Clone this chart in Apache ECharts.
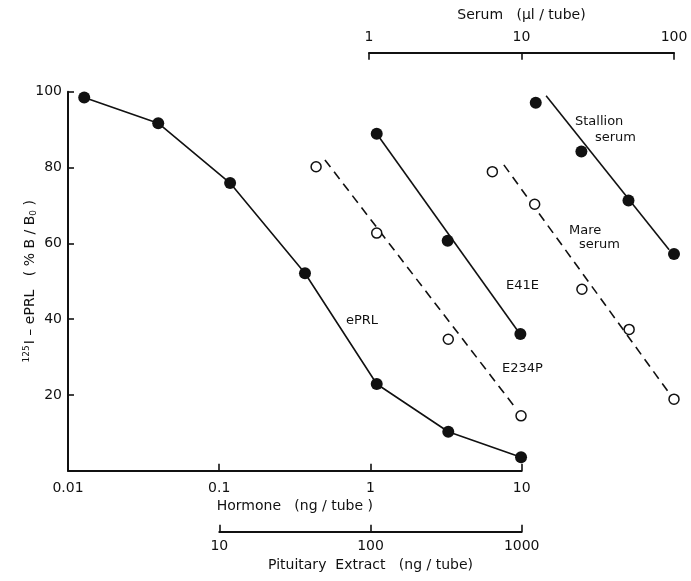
<!DOCTYPE html>
<html>
<head>
<meta charset="utf-8">
<script src="https://cdn.jsdelivr.net/npm/echarts@6/dist/echarts.min.js"></script>
<style>
  html, body { margin: 0; padding: 0; background: #fff; }
  #main { width: 691px; height: 581px; }
</style>
</head>
<body>
<div id="main"></div>
<script>
// data (x = ng/tube or ul/tube, y = %B/B0)
var eprlPts    = [[0.0128, 98.5], [0.0395, 91.7], [0.118, 75.9], [0.369, 52.1], [1.10, 22.9], [3.27, 10.3], [9.9, 3.6]];
var e234pPts   = [[0.437, 80.2], [1.10, 62.7], [3.27, 34.7], [9.9, 14.5]];
var e234pFit   = [[0.50, 82.0], [9.3, 16.1]];
var e41ePts    = [[1.10, 88.9], [3.24, 60.7], [9.8, 36.1]];
var e41eFit    = [[1.10, 88.9], [9.3, 37.2]];
var stallionPts = [[12.4, 97.1], [24.7, 84.2], [50.3, 71.3], [100, 57.2]];
var stallionFit = [[14.5, 98.9], [92.9, 58.3]];
var marePts    = [[6.44, 78.9], [12.2, 70.3], [24.9, 47.9], [50.8, 37.3], [100, 18.9]];
var mareFit    = [[7.66, 80.7], [93.3, 20.4]];

var FONT = 'DejaVu Sans';
var INK = '#111';

var chart = echarts.init(document.getElementById('main'));

function tickText(v) { return String(+(+v).toPrecision(3)); }

function logAxis(grid, min, max, pos, offset, name, gap, margin) {
    return {
        type: 'log', logBase: 10, gridIndex: grid, min: min, max: max,
        position: pos, offset: offset,
        name: name, nameLocation: 'middle', nameGap: gap, nameMoveOverlap: false,
        nameTextStyle: { fontFamily: FONT, fontSize: 14, color: INK },
        axisLine: { show: true, onZero: false, lineStyle: { color: INK, width: 2 } },
        axisTick: { show: true, inside: true, length: 7, lineStyle: { color: INK, width: 1.6 } },
        minorTick: { show: false },
        axisLabel: { fontFamily: FONT, fontSize: 14, color: INK, margin: margin, formatter: tickText },
        splitLine: { show: false }
    };
}
function hiddenY(grid) {
    return { type: 'value', gridIndex: grid, min: 0, max: 100, show: false };
}

var filled = { color: INK, opacity: 1 };
var open = { color: '#fff', borderColor: INK, borderWidth: 1.5, opacity: 1 };
var labelFont = '13px "DejaVu Sans"';

var option = {
    backgroundColor: '#fff',
    animation: false,
    grid: [
        { left: 68, right: 169.3, top: 91.7, bottom: 110.2 },
        { left: 369, right: 17, top: 91.7, bottom: 110.2 },
        { left: 219.3, right: 169.3, top: 91.7, bottom: 110.2 }
    ],
    xAxis: [
        logAxis(0, 0.01, 10, 'bottom', 0, 'Hormone   (ng / tube )', 29, 11),
        logAxis(1, 1, 100, 'top', 39, 'Serum   (\u00b5l / tube)', 30, 8),
        logAxis(2, 10, 1000, 'bottom', 61, 'Pituitary  Extract   (ng / tube)', 27, 8)
    ],
    yAxis: [
        {
            type: 'value', gridIndex: 0, min: 0, max: 100, interval: 20,
            name: '{sup|125}I \u2013 ePRL   ( % B / B{sub|0} )', nameLocation: 'middle', nameGap: 29,
            nameMoveOverlap: false,
            nameTextStyle: {
                fontFamily: FONT, fontSize: 14, color: INK,
                rich: {
                    sup: { fontFamily: FONT, fontSize: 9, color: INK, padding: [0, 1, 8, 0] },
                    sub: { fontFamily: FONT, fontSize: 9, color: INK, padding: [6, 0, 0, 0] }
                }
            },
            axisLine: { show: true, lineStyle: { color: INK, width: 2 } },
            axisTick: { show: true, inside: true, length: 6, lineStyle: { color: INK, width: 1.6 } },
            axisLabel: {
                fontFamily: FONT, fontSize: 14, color: INK, margin: 6,
                formatter: function (v) { return v === 0 ? '' : String(v); }
            },
            splitLine: { show: false }
        },
        hiddenY(1),
        hiddenY(2)
    ],
    graphic: [
        { type: 'text', left: 346, top: 314, style: { text: 'ePRL', font: labelFont, fill: INK } },
        { type: 'text', left: 506, top: 279, style: { text: 'E41E', font: labelFont, fill: INK } },
        { type: 'text', left: 502, top: 362, style: { text: 'E234P', font: labelFont, fill: INK } },
        { type: 'text', left: 575, top: 115, style: { text: 'Stallion', font: labelFont, fill: INK } },
        { type: 'text', left: 595, top: 131, style: { text: 'serum', font: labelFont, fill: INK } },
        { type: 'text', left: 569, top: 224, style: { text: 'Mare', font: labelFont, fill: INK } },
        { type: 'text', left: 579, top: 238, style: { text: 'serum', font: labelFont, fill: INK } }
    ],
    series: [
        {
            name: 'ePRL', type: 'line', xAxisIndex: 0, yAxisIndex: 0, data: eprlPts,
            symbol: 'circle', symbolSize: 12, itemStyle: filled,
            lineStyle: { color: INK, width: 1.6 }, z: 3
        },
        {
            name: 'E234P fit', type: 'line', xAxisIndex: 0, yAxisIndex: 0, data: e234pFit,
            showSymbol: false, lineStyle: { color: INK, width: 1.6, type: [9, 6] }
        },
        {
            name: 'E234P', type: 'scatter', xAxisIndex: 0, yAxisIndex: 0, data: e234pPts,
            symbol: 'circle', symbolSize: 10, itemStyle: open, z: 4
        },
        {
            name: 'E41E fit', type: 'line', xAxisIndex: 0, yAxisIndex: 0, data: e41eFit,
            showSymbol: false, lineStyle: { color: INK, width: 1.6 }
        },
        {
            name: 'E41E', type: 'scatter', xAxisIndex: 0, yAxisIndex: 0, data: e41ePts,
            symbol: 'circle', symbolSize: 12, itemStyle: filled, z: 4
        },
        {
            name: 'Stallion fit', type: 'line', xAxisIndex: 1, yAxisIndex: 1, data: stallionFit,
            showSymbol: false, clip: false, lineStyle: { color: INK, width: 1.6 }
        },
        {
            name: 'Stallion serum', type: 'scatter', xAxisIndex: 1, yAxisIndex: 1, data: stallionPts,
            symbol: 'circle', symbolSize: 12, itemStyle: filled, clip: false, z: 4
        },
        {
            name: 'Mare fit', type: 'line', xAxisIndex: 1, yAxisIndex: 1, data: mareFit,
            showSymbol: false, clip: false, lineStyle: { color: INK, width: 1.6, type: [9, 6] }
        },
        {
            name: 'Mare serum', type: 'scatter', xAxisIndex: 1, yAxisIndex: 1, data: marePts,
            symbol: 'circle', symbolSize: 10, itemStyle: open, clip: false, z: 4
        }
    ]
};
chart.setOption(option);
</script>
</body>
</html>
